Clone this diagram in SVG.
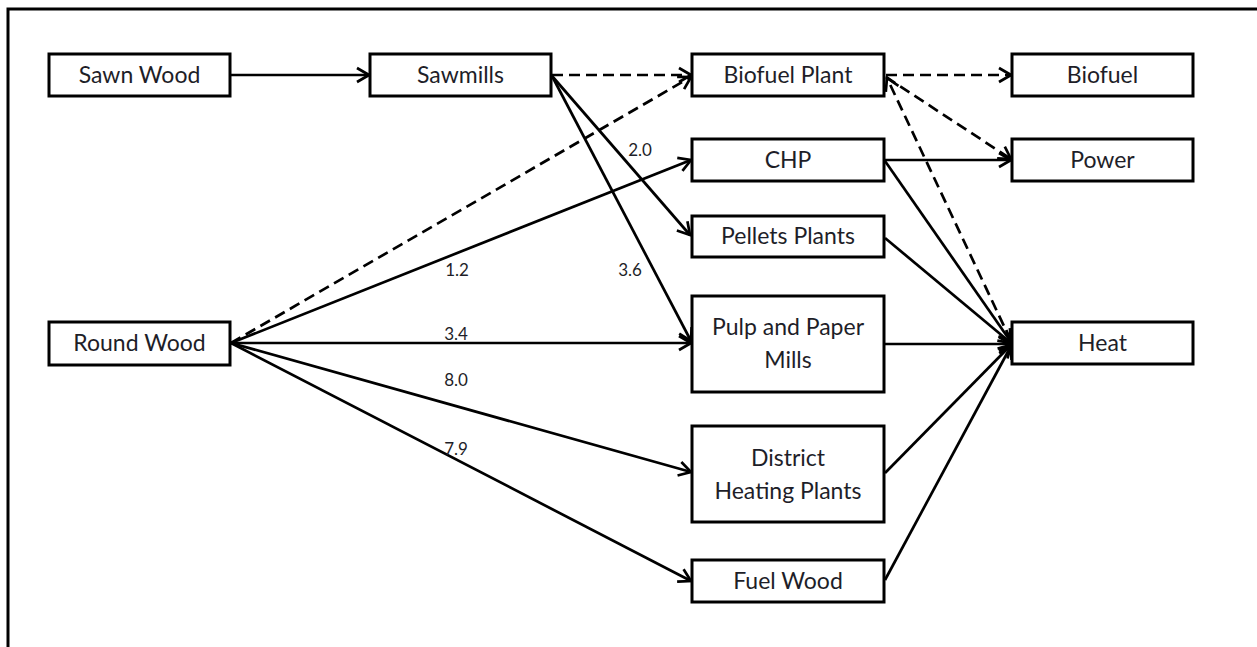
<svg xmlns="http://www.w3.org/2000/svg" width="1257" height="647" viewBox="0 0 1257 647">
<defs>
<style>
.box{fill:#fff;stroke:#000;stroke-width:3}
.lbl{font-family:Lato,"Liberation Sans",sans-serif;font-size:23px;fill:#1e1e28;text-anchor:middle}
.num{font-family:Lato,"Liberation Sans",sans-serif;font-size:17px;fill:#1e1e28;text-anchor:middle}
.ln{fill:none;stroke:#000;stroke-width:2.7}
.dash{stroke-dasharray:11 6}
</style>
<marker id="arr" viewBox="-15 -9 17 18" refX="0" refY="0" markerWidth="17" markerHeight="18" markerUnits="userSpaceOnUse" orient="auto">
<path d="M-12,-7 L0,0 L-12,7" fill="none" stroke="#000" stroke-width="2.7" stroke-dasharray="none"/>
</marker>
</defs>
<rect width="1257" height="647" fill="#fff"/>
<path d="M8,647 L8,9 L1257,9" fill="none" stroke="#000" stroke-width="3"/>
<g id="connectors">
<line class="ln" x1="230" y1="75" x2="369" y2="75" marker-end="url(#arr)"/>
<line class="ln dash" x1="552" y1="75" x2="691" y2="75" marker-end="url(#arr)"/>
<line class="ln dash" x1="231" y1="343" x2="691" y2="77" marker-end="url(#arr)"/>
<line class="ln" x1="231" y1="343" x2="691" y2="160" marker-end="url(#arr)"/>
<line class="ln" x1="552" y1="76" x2="690" y2="235" marker-end="url(#arr)"/>
<line class="ln" x1="552" y1="76" x2="691" y2="341" marker-end="url(#arr)"/>
<line class="ln" x1="231" y1="343" x2="691" y2="343" marker-end="url(#arr)"/>
<line class="ln" x1="231" y1="343" x2="691" y2="472" marker-end="url(#arr)"/>
<line class="ln" x1="231" y1="343" x2="691" y2="581" marker-end="url(#arr)"/>
<line class="ln dash" x1="886" y1="75" x2="1011" y2="75" marker-end="url(#arr)"/>
<line class="ln dash" x1="886" y1="77" x2="1011" y2="159" marker-end="url(#arr)"/>
<line class="ln" x1="885" y1="160" x2="1011" y2="160" marker-end="url(#arr)"/>
<line class="ln dash" x1="1011" y1="341" x2="887" y2="78" marker-end="url(#arr)"/>
<line class="ln" x1="885" y1="161" x2="1011" y2="342" marker-end="url(#arr)"/>
<line class="ln" x1="885" y1="238" x2="1011" y2="343" marker-end="url(#arr)"/>
<line class="ln" x1="885" y1="344" x2="1011" y2="344" marker-end="url(#arr)"/>
<line class="ln" x1="885" y1="473" x2="1011" y2="345" marker-end="url(#arr)"/>
<line class="ln" x1="885" y1="580" x2="1011" y2="346" marker-end="url(#arr)"/>
<text class="num" x="640" y="156">2.0</text>
<text class="num" x="457" y="276">1.2</text>
<text class="num" x="630" y="276">3.6</text>
<text class="num" x="456" y="340">3.4</text>
<text class="num" x="456" y="386">8.0</text>
<text class="num" x="456" y="455">7.9</text>
</g>
<g id="sawn-wood"><rect class="box" x="49" y="54" width="181" height="42"/><text class="lbl" x="139.5" y="83">Sawn Wood</text></g>
<g id="sawmills"><rect class="box" x="370" y="54" width="181" height="42"/><text class="lbl" x="460.5" y="83">Sawmills</text></g>
<g id="biofuel-plant"><rect class="box" x="692" y="54" width="192" height="42"/><text class="lbl" x="788" y="83">Biofuel Plant</text></g>
<g id="biofuel"><rect class="box" x="1012" y="54" width="181" height="42"/><text class="lbl" x="1102.5" y="83">Biofuel</text></g>
<g id="chp"><rect class="box" x="692" y="139" width="192" height="42"/><text class="lbl" x="788" y="168">CHP</text></g>
<g id="power"><rect class="box" x="1012" y="139" width="181" height="42"/><text class="lbl" x="1102.5" y="168">Power</text></g>
<g id="pellets-plants"><rect class="box" x="692" y="216" width="192" height="41"/><text class="lbl" x="788" y="244">Pellets Plants</text></g>
<g id="pulp-paper"><rect class="box" x="692" y="296" width="192" height="96"/><text class="lbl" x="788" y="335">Pulp and Paper</text><text class="lbl" x="788" y="368">Mills</text></g>
<g id="heat"><rect class="box" x="1012" y="322" width="181" height="42"/><text class="lbl" x="1102.5" y="351">Heat</text></g>
<g id="round-wood"><rect class="box" x="49" y="322" width="181" height="43"/><text class="lbl" x="139.5" y="351">Round Wood</text></g>
<g id="district-heating"><rect class="box" x="692" y="426" width="192" height="96"/><text class="lbl" x="788" y="466">District</text><text class="lbl" x="788" y="499">Heating Plants</text></g>
<g id="fuel-wood"><rect class="box" x="692" y="560" width="192" height="42"/><text class="lbl" x="788" y="589">Fuel Wood</text></g>
</svg>
